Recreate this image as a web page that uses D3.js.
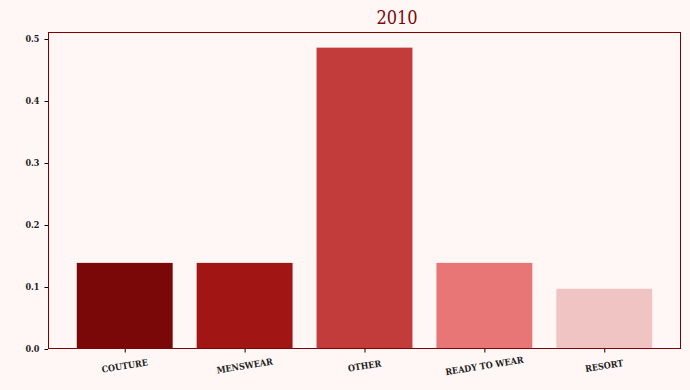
<!DOCTYPE html>
<html>
<head>
<meta charset="utf-8">
<title>2010</title>
<style>
  body { margin: 0; background: #fff7f5; }
  svg { display: block; }
  .tick text { font-family: "DejaVu Serif", serif; font-stretch: condensed; font-weight: bold; fill: #222; }
</style>
</head>
<body>
<script src="https://cdn.jsdelivr.net/npm/d3@7"></script>
<script>
// data
var categories = ["COUTURE", "MENSWEAR", "OTHER", "READY TO WEAR", "RESORT"];
var shares = [0.1389, 0.1389, 0.4861, 0.1389, 0.0972];
var barColors = ["#7a0808", "#a11515", "#c33c3c", "#e87676", "#f1c4c4"];
var yTicks = [0.0, 0.1, 0.2, 0.3, 0.4, 0.5];
var title = "2010";

var width = 690, height = 390;
var mLeft = 48, mRight = 681, mTop = 32, mBottom = 349;

var svg = d3.select("body").append("svg")
  .attr("width", width)
  .attr("height", height);

svg.append("rect").attr("width", width).attr("height", height).attr("fill", "#fff7f5");

// x: matplotlib style, bar width .8, 5% margins
var x = d3.scaleLinear().domain([-0.64, categories.length - 1 + 0.64]).range([mLeft, mRight]);
var y = d3.scaleLinear().domain([0, 0.5113]).range([mBottom, mTop]);

svg.append("g").selectAll("rect")
  .data(shares)
  .enter()
  .append("rect")
  .attr("x", function(d, i) { return x(i - 0.4); })
  .attr("width", function(d, i) { return x(i + 0.4) - x(i - 0.4); })
  .attr("y", function(d) { return y(d); })
  .attr("height", function(d) { return y(0) - y(d); })
  .attr("fill", function(d, i) { return barColors[i]; });

// frame
svg.append("rect")
  .attr("x", mLeft + 0.5).attr("y", mTop + 0.5)
  .attr("width", mRight - mLeft - 1).attr("height", mBottom - mTop - 1)
  .attr("fill", "none")
  .attr("stroke", "#800000")
  .attr("stroke-width", 1);

// y axis
var yAxis = svg.append("g")
  .attr("transform", "translate(" + mLeft + ",0)")
  .call(d3.axisLeft(y).tickValues(yTicks).tickFormat(d3.format(".1f")).tickSize(3.5).tickPadding(5));
yAxis.select(".domain").remove();
yAxis.selectAll(".tick line").attr("stroke", "#000");
yAxis.selectAll(".tick text").style("font-size", "9px");

// x axis
var xAxis = svg.append("g")
  .attr("transform", "translate(0," + mBottom + ")")
  .call(d3.axisBottom(x).tickValues(d3.range(categories.length))
    .tickFormat(function(i) { return categories[i]; }).tickSize(3.5).tickPadding(4));
xAxis.select(".domain").remove();
xAxis.selectAll(".tick line").attr("stroke", "#000");
xAxis.selectAll(".tick text")
  .style("font-size", "9px")
  .attr("text-anchor", "middle")
  .attr("y", 0)
  .attr("dy", 0)
  .attr("transform", "translate(0,20) rotate(-9)");

// title
svg.append("text")
  .attr("x", 397)
  .attr("y", 24)
  .attr("text-anchor", "middle")
  .style("font-family", "'DejaVu Serif', serif")
  .style("font-stretch", "condensed")
  .style("font-size", "18px")
  .style("fill", "#7a0a0a")
  .text(title);
</script>
</body>
</html>
